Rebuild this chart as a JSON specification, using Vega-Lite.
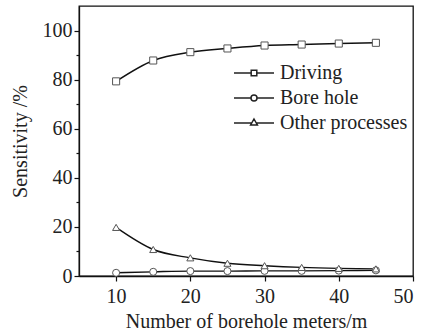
{
  "$schema": "https://vega.github.io/schema/vega-lite/v6.json",
  "width": 334,
  "height": 270,
  "autosize": "none",
  "padding": {"left": 79, "top": 6, "right": 10, "bottom": 60},
  "background": "white",
  "config": {
    "view": {"stroke": "#111", "strokeWidth": 1.3},
    "font": "Liberation Serif",
    "axis": {
      "labelFont": "Liberation Serif",
      "titleFont": "Liberation Serif",
      "labelFontSize": 20,
      "titleFontSize": 20,
      "titleFontWeight": "normal",
      "labelColor": "#222",
      "titleColor": "#222",
      "domainColor": "#111",
      "domainWidth": 1.3,
      "tickColor": "#111",
      "tickWidth": 1.2,
      "grid": false
    }
  },
  "data": {
    "values": [
      {"x": 10, "series": "Driving", "y": 79.3},
      {"x": 15, "series": "Driving", "y": 87.8},
      {"x": 20, "series": "Driving", "y": 91.2},
      {"x": 25, "series": "Driving", "y": 92.7},
      {"x": 30, "series": "Driving", "y": 93.9},
      {"x": 35, "series": "Driving", "y": 94.3},
      {"x": 40, "series": "Driving", "y": 94.7},
      {"x": 45, "series": "Driving", "y": 95.0},
      {"x": 10, "series": "Bore hole", "y": 1.3},
      {"x": 15, "series": "Bore hole", "y": 1.7},
      {"x": 20, "series": "Bore hole", "y": 2.0},
      {"x": 25, "series": "Bore hole", "y": 2.0},
      {"x": 30, "series": "Bore hole", "y": 2.1},
      {"x": 35, "series": "Bore hole", "y": 2.1},
      {"x": 40, "series": "Bore hole", "y": 2.2},
      {"x": 45, "series": "Bore hole", "y": 2.3},
      {"x": 10, "series": "Other processes", "y": 19.8},
      {"x": 15, "series": "Other processes", "y": 10.8},
      {"x": 20, "series": "Other processes", "y": 7.4},
      {"x": 25, "series": "Other processes", "y": 5.2},
      {"x": 30, "series": "Other processes", "y": 4.2},
      {"x": 35, "series": "Other processes", "y": 3.5},
      {"x": 40, "series": "Other processes", "y": 3.1},
      {"x": 45, "series": "Other processes", "y": 2.9}
    ]
  },
  "encoding": {
    "x": {
      "field": "x",
      "type": "quantitative",
      "scale": {"domain": [5, 50], "nice": false, "zero": false},
      "axis": {
        "title": "Number of borehole meters/m",
        "values": [10, 20, 30, 40, 50],
        "tickSize": 5,
        "labelPadding": 5,
        "titlePadding": 5
      }
    },
    "y": {
      "field": "y",
      "type": "quantitative",
      "scale": {"domain": [0, 110], "nice": false},
      "axis": {
        "title": "Sensitivity /%",
        "values": [0, 10, 20, 30, 40, 50, 60, 70, 80, 90, 100],
        "labelExpr": "datum.value % 20 === 0 ? datum.label : ''",
        "tickSize": {"condition": {"test": "datum.value % 20 === 0", "value": 5}, "value": 3},
        "labelPadding": 2,
        "titlePadding": 12
      }
    }
  },
  "layer": [
    {
      "mark": {"type": "line", "interpolate": "monotone", "color": "#111", "strokeWidth": 1.4},
      "encoding": {"detail": {"field": "series"}}
    },
    {
      "mark": {"type": "point", "filled": true, "fill": "white", "fillOpacity": 1, "stroke": "#555", "strokeWidth": 1, "size": 50, "opacity": 1},
      "encoding": {
        "shape": {
          "field": "series",
          "type": "nominal",
          "scale": {"domain": ["Driving", "Bore hole", "Other processes"], "range": ["square", "circle", "triangle-up"]},
          "legend": null
        }
      }
    },
    {
      "mark": {"type": "point", "filled": false, "color": "#222", "opacity": 0},
      "encoding": {
        "shape": {
          "field": "series",
          "type": "nominal",
          "scale": {
            "domain": ["Driving", "Bore hole", "Other processes"],
            "range": [
              "M-2,0H-0.28M0.28,0H2M-0.28,-0.28H0.28V0.28H-0.28Z",
              "M-2,0H-0.3M0.3,0H2M0.3,0A0.3,0.3,0,1,1,-0.3,0A0.3,0.3,0,1,1,0.3,0Z",
              "M-2,0H-0.22M0.22,0H2M0,-0.4L0.34,0.2L-0.34,0.2Z"
            ]
          },
          "legend": {
            "orient": "none",
            "legendX": 164,
            "legendY": 56,
            "title": null,
            "padding": 0,
            "symbolSize": 400,
            "labelFont": "Liberation Serif",
            "labelFontSize": 20,
            "labelColor": "#222",
            "labelOffset": 15,
            "labelExpr": "datum.label === 'Driving' ? '\u2002Driving' : datum.label",
            "rowPadding": 4,
            "encode": {
              "symbols": {
                "update": {
                  "fill": {"value": "white"},
                  "stroke": {"value": "#222"},
                  "strokeWidth": {"value": 1.2},
                  "opacity": {"value": 1},
                  "fillOpacity": {"value": 1},
                  "strokeOpacity": {"value": 1}
                }
              }
            }
          }
        }
      }
    }
  ],
  "resolve": {"scale": {"shape": "independent"}}
}
